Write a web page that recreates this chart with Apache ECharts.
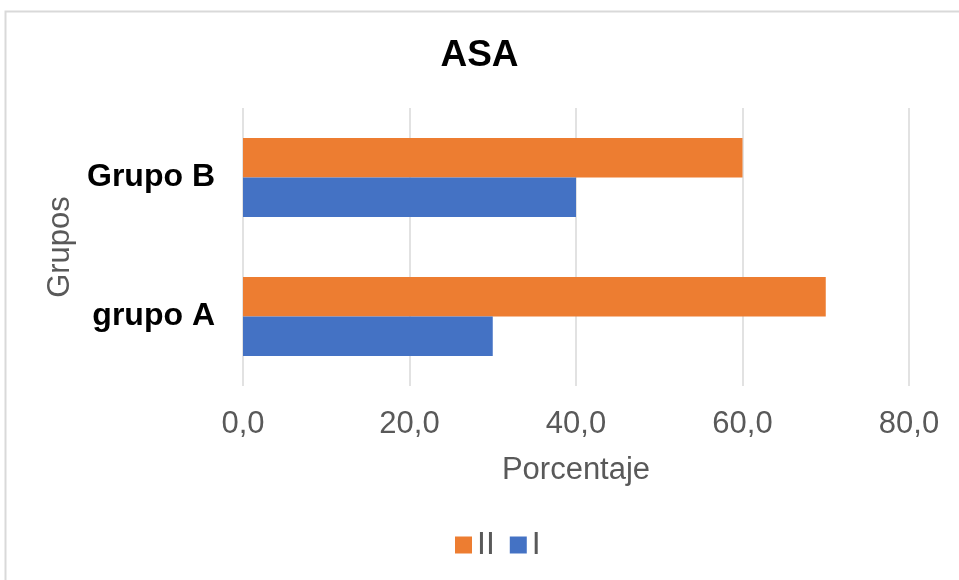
<!DOCTYPE html>
<html>
<head>
<meta charset="utf-8">
<style>
  html, body { margin: 0; padding: 0; background: #ffffff; }
  #chart { width: 959px; height: 580px; }
</style>
<script src="https://cdn.jsdelivr.net/npm/echarts@6/dist/echarts.min.js"></script>
</head>
<body>
<div id="chart"></div>
<script>
// Groups on the category axis (bottom to top)
const categories = ['grupo A', 'Grupo B'];
// ASA class percentages per group
const seriesI = [30, 40];
const seriesII = [70, 60];
const xTicks = [0, 20, 40, 60, 80];

const FONT = '"Liberation Sans", Arial, sans-serif';
const chart = echarts.init(document.getElementById('chart'), null, { renderer: 'canvas' });

chart.setOption({
  animation: false,
  backgroundColor: '#ffffff',
  graphic: [{
    type: 'rect',
    shape: { x: 5.5, y: 11.5, width: 1000, height: 1000 },
    style: { fill: 'none', stroke: '#d9d9d9', lineWidth: 2 },
    silent: true,
    z: -10
  }],
  title: {
    text: 'ASA',
    left: 'center',
    top: 32,
    textStyle: { fontFamily: FONT, fontSize: 37, fontWeight: 'bold', color: '#000000' }
  },
  legend: {
    data: ['II', 'I'],
    bottom: 14,
    left: 450,
    itemWidth: 17,
    itemHeight: 17,
    itemGap: 15,
    icon: 'rect',
    textStyle: { fontFamily: FONT, fontSize: 32, color: '#595959' }
  },
  grid: { left: 243, right: 50, top: 108, bottom: 194, containLabel: false },
  xAxis: {
    type: 'value',
    min: xTicks[0],
    max: xTicks[xTicks.length - 1],
    interval: xTicks[1] - xTicks[0],
    name: 'Porcentaje',
    nameLocation: 'middle',
    nameGap: 69,
    nameTextStyle: { fontFamily: FONT, fontSize: 31, color: '#595959' },
    axisLine: { show: false },
    axisTick: { show: false },
    axisLabel: {
      margin: 23,
      fontFamily: FONT, fontSize: 31, color: '#595959',
      formatter: v => v.toFixed(1).replace('.', ',')
    },
    splitLine: { show: true, lineStyle: { color: '#d9d9d9', width: 1.5 } }
  },
  yAxis: {
    type: 'category',
    data: categories,
    name: 'Grupos',
    nameLocation: 'middle',
    nameGap: 164,
    nameRotate: 90,
    nameTextStyle: { fontFamily: FONT, fontSize: 31, color: '#595959' },
    axisLine: { show: false },
    axisTick: { show: false },
    axisLabel: { margin: 28, fontFamily: FONT, fontSize: 32, fontWeight: 'bold', color: '#000000' },
    splitLine: { show: false }
  },
  series: [
    {
      name: 'II', type: 'bar', data: seriesII,
      itemStyle: { color: '#ED7D31' },
      barGap: '0%', barCategoryGap: '43%'
    },
    {
      name: 'I', type: 'bar', data: seriesI,
      itemStyle: { color: '#4472C4' },
      barGap: '0%', barCategoryGap: '43%'
    }
  ]
});
</script>
</body>
</html>
